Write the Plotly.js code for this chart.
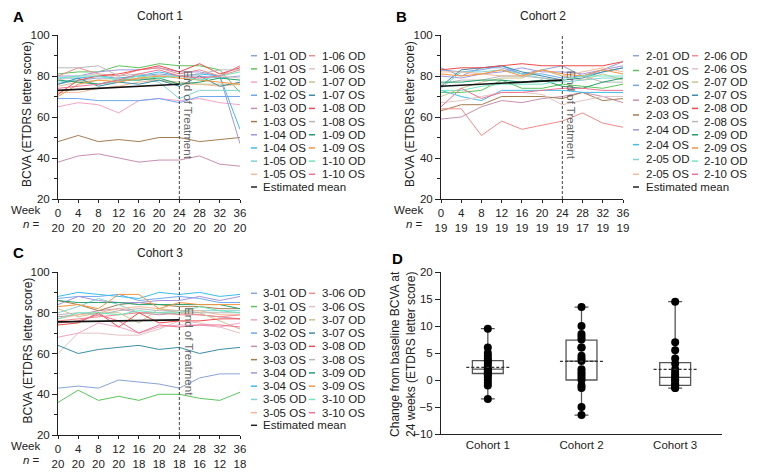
<!DOCTYPE html>
<html>
<head>
<meta charset="utf-8">
<script src="https://cdn.plot.ly/plotly-3.0.1.min.js"></script>
<style>
  body { margin: 0; background: #fff; }
  #chart { width: 764px; height: 473px; }
</style>
</head>
<body>
<div id="chart"></div>
<script>
// weeks of follow-up and number of eyes seen at each visit
var weeks = [0, 4, 8, 12, 16, 20, 24, 28, 32, 36];
var nCohort1 = [20, 20, 20, 20, 20, 20, 20, 20, 20, 20];
var nCohort2 = [19, 19, 19, 19, 19, 19, 19, 17, 19, 19];
var nCohort3 = [20, 20, 20, 20, 18, 18, 18, 16, 12, 18];

// cohort 1 eyes (BCVA, ETDRS letters)
var names1 = ["1-01 OD", "1-01 OS", "1-02 OD", "1-02 OS", "1-03 OD", "1-03 OS", "1-04 OD", "1-04 OS", "1-05 OD", "1-05 OS",
              "1-06 OD", "1-06 OS", "1-07 OD", "1-07 OS", "1-08 OD", "1-08 OS", "1-09 OD", "1-09 OS", "1-10 OD", "1-10 OS"];
var values1 = [
  [76, 78, 79, 79, 80, 81, 80, 80, 79, 80],
  [81, 82, 82, 85, 84, 86, 85, 85, 83, 72],
  [65, 67, 66, 62, 68, 69, 68, 69, 67, 66],
  [69, 69, 68, 68, 68, 69, 67, 70, 70, 70],
  [38, 41, 42, 40, 38, 39, 39, 41, 37, 36],
  [48, 51, 48, 49, 48, 50, 50, 48, 49, 50],
  [80, 80, 82, 83, 83, 84, 82, 82, 80, 47],
  [79, 79, 80, 79, 80, 82, 80, 81, 80, 54],
  [77, 78, 76, 77, 79, 77, 69, 73, 73, 73],
  [72, 72, 74, 75, 77, 78, 76, 76, 75, 76],
  [80, 84, 81, 80, 83, 84, 81, 83, 80, 83],
  [78, 80, 81, 79, 78, 80, 80, 79, 80, 79],
  [75, 77, 78, 78, 79, 78, 77, 76, 76, 76],
  [76, 79, 75, 77, 76, 78, 75, 80, 75, 77],
  [71, 78, 80, 81, 83, 85, 82, 86, 81, 84],
  [84, 84, 85, 80, 81, 80, 80, 81, 83, 83],
  [78, 77, 76, 78, 78, 79, 76, 77, 79, 78],
  [70, 76, 78, 77, 79, 80, 79, 78, 77, 76],
  [79, 80, 80, 78, 80, 79, 80, 78, 80, 82],
  [74, 75, 76, 78, 81, 83, 80, 79, 80, 85]
];
var meanWeeks1 = [0, 24];
var mean1 = [73, 76];

// cohort 2 eyes
var names2 = ["2-01 OD", "2-01 OS", "2-02 OS", "2-03 OD", "2-03 OS", "2-04 OD", "2-04 OS", "2-05 OD", "2-05 OS",
              "2-06 OD", "2-06 OS", "2-07 OD", "2-07 OS", "2-08 OD", "2-08 OS", "2-09 OD", "2-09 OS", "2-10 OD", "2-10 OS"];
var values2 = [
  [84, 80, 84, 84, 81, 83, 85, 80, 83, 87],
  [72, 72, 73, 78, 74, 74, 76, 75, 74, 76],
  [83, 82, 83, 85, 81, 81, 79, 80, 82, 84],
  [59, 60, 65, 68, 67, 69, 70, 72, 70, 67],
  [63, 66, 66, 70, 70, 70, 69, 72, 68, 69],
  [80, 79, 81, 82, 84, 82, 82, 81, 83, 85],
  [73, 70, 68, 73, 73, 73, 73, 72, 72, 72],
  [74, 82, 82, 83, 81, 79, 77, 78, 79, 79],
  [82, 82, 81, 80, 80, 83, 80, 82, 84, 82],
  [64, 64, 51, 58, 54, 56, 58, 62, 57, 55],
  [67, 68, 70, 72, 72, 71, 66, 68, 70, 70],
  [70, 74, 77, 79, 79, 83, 80, 78, 81, 78],
  [75, 83, 84, 85, 82, 80, 78, 79, 82, 84],
  [83, 84, 84, 85, 86, 85, 85, 85, 85, 87],
  [76, 78, 78, 80, 80, 79, 78, 80, 77, 77],
  [77, 77, 78, 78, 77, 78, 75, 74, 77, 79],
  [81, 80, 81, 83, 80, 83, 81, 80, 83, 81],
  [73, 73, 75, 76, 76, 76, 78, 80, 80, 80],
  [65, 74, 69, 72, 72, 73, 74, 74, 73, 73]
];
var meanWeeks2 = [0, 24];
var mean2 = [75, 78];

// cohort 3 eyes
var names3 = ["3-01 OD", "3-01 OS", "3-02 OD", "3-02 OS", "3-03 OD", "3-03 OS", "3-04 OD", "3-04 OS", "3-05 OD", "3-05 OS",
              "3-06 OD", "3-06 OS", "3-07 OD", "3-07 OS", "3-08 OD", "3-08 OS", "3-09 OD", "3-09 OS", "3-10 OD", "3-10 OS"];
var values3 = [
  [43, 44, 43, 47, 46, 45, 43, 48, 50, 50],
  [36, 42, 37, 39, 37, 40, 40, 38, 37, 41],
  [68, 70, 75, 73, 70, 73, 74, 74, 73, 75],
  [87, 88, 88, 89, 86, 87, 88, 87, 85, 85],
  [78, 79, 81, 82, 80, 79, 80, 79, 78, 77],
  [86, 84, 81, 84, 85, 84, 83, 83, 82, 82],
  [84, 88, 86, 85, 85, 86, 86, 88, 86, 88],
  [88, 90, 89, 88, 87, 90, 89, 90, 88, 89],
  [80, 83, 87, 84, 80, 80, 81, 81, 81, 81],
  [77, 79, 80, 82, 83, 82, 81, 81, 79, 79],
  [76, 77, 78, 79, 80, 80, 79, 79, 78, 79],
  [60, 70, 70, 69, 69, 72, 76, 75, 73, 70],
  [82, 78, 80, 80, 75, 82, 80, 80, 76, 72],
  [64, 60, 62, 63, 64, 62, 63, 60, 62, 63],
  [74, 75, 80, 73, 80, 75, 76, 76, 77, 77],
  [79, 80, 79, 81, 82, 81, 81, 80, 80, 80],
  [86, 85, 85, 85, 84, 84, 84, 84, 84, 82],
  [83, 84, 82, 89, 89, 82, 85, 84, 84, 84],
  [77, 80, 80, 79, 81, 80, 80, 83, 81, 80],
  [75, 76, 79, 76, 70, 74, 73, 74, 74, 73]
];
var meanWeeks3 = [0, 24];
var mean3 = [75.5, 76.5];

var endOfTreatmentWeek = 24;

// panel D: change from baseline at week 24, per eye
var cohorts = ["Cohort 1", "Cohort 2", "Cohort 3"];
var change1 = [9.5, 6, 5, 4.5, 4, 3.5, 3.5, 3, 2.5, 2, 2, 1.5, 1.5, 1, 1, 0.5, 0, -0.5, -1, -3.5];
var change2 = [13.5, 10, 8.5, 8, 7.5, 6, 6, 4.5, 4, 3.5, 2, 1.5, 1, 0.5, 0, -1, -1.5, -5, -6.5];
var change3 = [14.5, 7, 5.5, 4, 3, 2, 1.5, 1, 0.5, 0.5, 0, 0, -0.5, -1, -1, -1, -1.5, -1.5];
// box statistics
var boxQ1 = [1.2, 0, -1];
var boxMedian = [2, 3.5, 0.5];
var boxQ3 = [3.6, 7.4, 3.2];
var boxMean = [2.35, 3.45, 1.95];

// one colour per eye slot (patient 01..10, OD then OS)
var palette = ["#8aa4d6", "#5cc45c", "#f5a3c7", "#6fa8ef", "#c98fb0", "#a57d52", "#a395e0", "#3cbdeb", "#7fd3d3", "#f9b896",
               "#f28b8b", "#e3c3c3", "#c9c48f", "#3d8ea8", "#f24b4b", "#b8b8b8", "#24a06e", "#f7953f", "#6fe6bd", "#f2708f"];

var W = 764, H = 473;
var FONT = "Liberation Sans, Arial, sans-serif";
function px(x) { return x / W; }
function py(y) { return 1 - y / H; }

function colourFor(name) {
  var patient = parseInt(name.split("-")[1].slice(0, 2), 10);
  var eye = name.indexOf("OS") >= 0 ? 1 : 0;
  return palette[(patient - 1) * 2 + eye];
}

var data = [];
var shapes = [];
var annotations = [];

// panel geometry in pixels (plot area) and legend geometry
var panels = [
  {names: names1, values: values1, mw: meanWeeks1, mean: mean1, n: nCohort1, xa: "x", ya: "y",
   title: "Cohort 1", letter: "A", left: 58, right: 240, top: 35, bottom: 199,
   leg: {sw: 251, tx: 261, sw2: 309, tx2: 320, top: 55.7, bottom: 174.3, meanY: 187}, split: 10},
  {names: names2, values: values2, mw: meanWeeks2, mean: mean2, n: nCohort2, xa: "x2", ya: "y2",
   title: "Cohort 2", letter: "B", left: 441, right: 623, top: 35, bottom: 199,
   leg: {sw: 633, tx: 644, sw2: 692, tx2: 702, top: 55.7, bottom: 174.3, meanY: 187}, split: 9},
  {names: names3, values: values3, mw: meanWeeks3, mean: mean3, n: nCohort3, xa: "x3", ya: "y3",
   title: "Cohort 3", letter: "C", left: 58, right: 240, top: 272, bottom: 435,
   leg: {sw: 251, tx: 261, sw2: 309, tx2: 320, top: 293.3, bottom: 412.7, meanY: 425.3}, split: 10}
];

var layout = {
  width: W, height: H,
  margin: {l: 0, r: 0, t: 0, b: 0},
  paper_bgcolor: "#fff", plot_bgcolor: "#fff",
  showlegend: false,
  font: {family: FONT, size: 11, color: "#222"}
};

panels.forEach(function (p, k) {
  // individual eyes
  for (var i = 0; i < p.names.length; i++) {
    data.push({
      x: weeks, y: p.values[i], name: p.names[i], type: "scatter", mode: "lines",
      xaxis: p.xa, yaxis: p.ya, line: {color: colourFor(p.names[i]), width: 1},
      hoverinfo: "name+y"
    });
  }
  // estimated mean
  data.push({
    x: p.mw, y: p.mean, name: "Estimated mean", type: "scatter", mode: "lines",
    xaxis: p.xa, yaxis: p.ya, line: {color: "#111", width: 1.6}
  });

  var suffix = k === 0 ? "" : String(k + 1);
  layout["xaxis" + suffix] = {
    domain: [px(p.left), px(p.right)], anchor: p.ya, range: [0, 36],
    tickvals: weeks,
    ticktext: weeks.map(function (w, j) { return w + "<br>" + p.n[j]; }),
    tickangle: 0,
    showline: true, linecolor: "#222", linewidth: 1,
    ticks: "outside", ticklen: 3, tickcolor: "#222",
    showgrid: false, zeroline: false, tickfont: {size: 11.5, color: "#222"}
  };
  layout["yaxis" + suffix] = {
    domain: [py(p.bottom), py(p.top)], anchor: p.xa, range: [20, 100], dtick: 20,
    showline: true, linecolor: "#222", linewidth: 1,
    ticks: "outside", ticklen: 5, tickcolor: "#222",
    minor: {ticks: "outside", ticklen: 3, dtick: 10, tickcolor: "#222"},
    showgrid: false, zeroline: false, tickfont: {size: 11.5, color: "#222"}
  };
  annotations.push({xref: "paper", yref: "paper", x: px(p.left - 31), y: py((p.top + p.bottom) / 2 - 3),
                    text: "BCVA (ETDRS letter score)", textangle: -90, showarrow: false,
                    xanchor: "center", yanchor: "middle", font: {size: 12, color: "#222"}});

  // end of treatment marker
  shapes.push({type: "line", xref: p.xa, yref: p.ya, x0: endOfTreatmentWeek, x1: endOfTreatmentWeek,
               y0: 20, y1: 100, line: {color: "#444", width: 1, dash: "3px,2px"}});
  annotations.push({xref: p.xa, yref: p.ya, x: endOfTreatmentWeek, y: 61, xshift: 9,
                    text: "End of Treatment", textangle: 90, showarrow: false,
                    font: {size: 11.5, color: "#666"}});

  // titles and labels
  annotations.push({xref: "paper", yref: "paper", x: px((p.left + p.right) / 2 + 11), y: py(p.top - 19),
                    text: p.title, showarrow: false, font: {size: 12}, xanchor: "center", yanchor: "middle"});
  annotations.push({xref: "paper", yref: "paper", x: px(p.left - 40), y: py(p.top - 19),
                    text: "<b>" + p.letter + "</b>", showarrow: false, font: {size: 15, color: "#000"},
                    xanchor: "center", yanchor: "middle"});
  annotations.push({xref: "paper", yref: "paper", x: px(p.left - 16), y: py(p.bottom + 11),
                    text: "Week", showarrow: false, xanchor: "right", yanchor: "middle", font: {size: 11.5}});
  annotations.push({xref: "paper", yref: "paper", x: px(p.left - 16), y: py(p.bottom + 25),
                    text: "<i>n</i> =", showarrow: false, xanchor: "right", yanchor: "middle", font: {size: 11.5}});

  // hand-placed two-column legend
  var L = p.leg;
  var count1 = p.split, count2 = p.names.length - p.split;
  for (var m = 0; m < p.names.length; m++) {
    var col2 = m >= p.split;
    var idx = col2 ? m - p.split : m;
    var cnt = col2 ? count2 : count1;
    var yy = L.top + idx * (L.bottom - L.top) / (cnt - 1);
    var sx = col2 ? L.sw2 : L.sw;
    var tx = col2 ? L.tx2 : L.tx;
    shapes.push({type: "line", xref: "paper", yref: "paper", x0: px(sx), x1: px(sx + 6), y0: py(yy), y1: py(yy),
                 line: {color: colourFor(p.names[m]), width: 1.5}});
    annotations.push({xref: "paper", yref: "paper", x: px(tx), y: py(yy), text: p.names[m], showarrow: false,
                      xanchor: "left", yanchor: "middle", font: {size: 11.5, color: "#222"}});
  }
  shapes.push({type: "line", xref: "paper", yref: "paper", x0: px(L.sw), x1: px(L.sw + 6), y0: py(L.meanY), y1: py(L.meanY),
               line: {color: "#222", width: 1.5}});
  annotations.push({xref: "paper", yref: "paper", x: px(L.tx), y: py(L.meanY), text: "Estimated mean", showarrow: false,
                    xanchor: "left", yanchor: "middle", font: {size: 11.5, color: "#222"}});
});

// panel D: box (min to max) with individual eyes and mean
var changes = [change1, change2, change3];
changes.forEach(function (vals, i) {
  data.push({
    type: "box", x0: i, xaxis: "x4", yaxis: "y4", name: cohorts[i],
    q1: [boxQ1[i]], median: [boxMedian[i]], q3: [boxQ3[i]],
    lowerfence: [Math.min.apply(null, vals)], upperfence: [Math.max.apply(null, vals)],
    x: [i], width: 0.33, whiskerwidth: 0.45, fillcolor: "rgba(0,0,0,0)",
    line: {color: "#555", width: 1.3}, boxpoints: false, hoverinfo: "y"
  });
  data.push({
    type: "scatter", mode: "markers", xaxis: "x4", yaxis: "y4",
    x: vals.map(function () { return i; }), y: vals,
    marker: {color: "#000", size: 8}, hoverinfo: "y"
  });
  data.push({
    type: "scatter", mode: "lines", xaxis: "x4", yaxis: "y4",
    x: [i - 0.23, i + 0.23], y: [boxMean[i], boxMean[i]],
    line: {color: "#333", width: 1.2, dash: "3px,2px"}, hoverinfo: "y"
  });
});

layout.xaxis4 = {
  domain: [px(441), px(722)], anchor: "y4", range: [-0.5, 2.5],
  tickvals: [0, 1, 2], ticktext: cohorts,
  showline: true, linecolor: "#222", linewidth: 1, ticks: "",
  showgrid: false, zeroline: false, tickfont: {size: 11.5, color: "#222"}
};
layout.yaxis4 = {
  domain: [py(434), py(272)], anchor: "x4", range: [-10, 20], dtick: 5,
  showline: true, linecolor: "#222", linewidth: 1, ticks: "outside", ticklen: 5, tickcolor: "#222",
  showgrid: false, zeroline: false, tickfont: {size: 11.5, color: "#222"}
};
annotations.push({xref: "paper", yref: "paper", x: px(403), y: py(354),
                  text: "Change from baseline BCVA at<br>24 weeks (ETDRS letter score)", textangle: -90,
                  showarrow: false, xanchor: "center", yanchor: "middle", font: {size: 12, color: "#222"}});
annotations.push({xref: "paper", yref: "paper", x: px(397), y: py(258), text: "<b>D</b>", showarrow: false,
                  font: {size: 15, color: "#000"}, xanchor: "center", yanchor: "middle"});

layout.shapes = shapes;
layout.annotations = annotations;

Plotly.newPlot("chart", data, layout, {displayModeBar: false, staticPlot: true});
</script>
</body>
</html>
